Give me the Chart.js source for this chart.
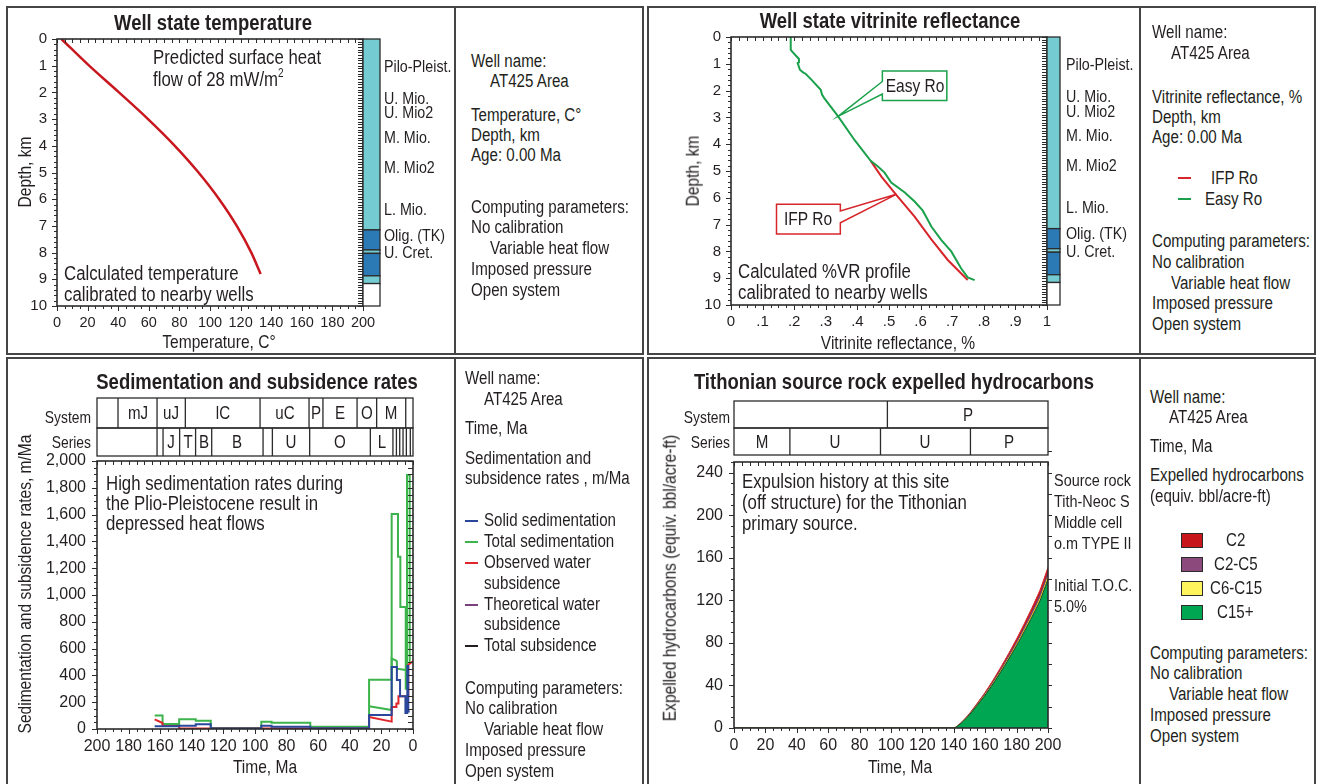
<!DOCTYPE html>
<html>
<head>
<meta charset="utf-8">
<script src="https://cdn.jsdelivr.net/npm/chart.js@4.4.1/dist/chart.umd.min.js"></script>
<style>
body { margin: 0; background: #fff; }
#page { position: relative; width: 1319px; height: 784px; overflow: hidden; background: #fff;
  font-family: "Liberation Sans", Arial, sans-serif; color: #231f20; }
.box { position: absolute; border: 2px solid #454545; box-sizing: border-box; }
.vl { position: absolute; width: 2px; background: #454545; }
canvas { position: absolute; }
.t { position: absolute; white-space: nowrap; line-height: 1; }
.t sup { font-size: 0.6em; vertical-align: 0.7em; }
.sw { position: absolute; }
</style>
</head>
<body>
<div id="page">
  <div class="box" style="left:6px;top:6px;width:638px;height:349px"></div>
  <div class="vl" style="left:454px;top:6px;height:349px"></div>
  <div class="box" style="left:647px;top:6px;width:669px;height:349px"></div>
  <div class="vl" style="left:1139px;top:6px;height:349px"></div>
  <div class="box" style="left:6px;top:357px;width:638px;height:440px"></div>
  <div class="vl" style="left:454px;top:357px;height:440px"></div>
  <div class="box" style="left:647px;top:357px;width:669px;height:440px"></div>
  <div class="vl" style="left:1139px;top:357px;height:440px"></div>
  <canvas id="tempCanvas" width="446" height="345" style="left:8px;top:8px"></canvas>
  <canvas id="vrCanvas" width="491" height="345" style="left:648px;top:8px"></canvas>
  <canvas id="sedCanvas" width="446" height="425" style="left:8px;top:359px"></canvas>
  <canvas id="expCanvas" width="491" height="425" style="left:648px;top:359px"></canvas>
</div>
<script>
// ---- temperature profile (depth km -> temperature C)
const tempDepth = [0, 1, 2, 3, 4, 5, 6, 7, 8, 8.8];
const tempValue = [2.9, 21, 40.5, 59.5, 77, 92.5, 106, 117.5, 127, 133.1];

// ---- vitrinite reflectance profiles (depth km -> %Ro)
const easyDepth = [0, 0.47, 0.54, 0.82, 0.95, 0.97, 1.22, 1.32, 1.37, 1.6, 1.97, 2.15, 2.28, 2.96, 3.86, 4.62, 4.83, 5.06, 5.43, 5.8, 6.14, 6.48, 7.07, 7.57, 8.0, 8.63, 8.97, 9.07];
const easyRo = [0.189, 0.189, 0.193, 0.215, 0.215, 0.211, 0.218, 0.228, 0.236, 0.255, 0.284, 0.288, 0.295, 0.339, 0.392, 0.442, 0.465, 0.486, 0.507, 0.55, 0.581, 0.607, 0.634, 0.665, 0.697, 0.728, 0.749, 0.771];
const ifpDepth = [4.62, 5.21, 5.89, 6.7, 7.55, 8.32, 9.07];
const ifpRo = [0.442, 0.476, 0.523, 0.581, 0.634, 0.686, 0.749];

// ---- stratigraphic column (top depth km of each unit)
const columnTops = [0, 7.15, 7.9, 8.03, 8.87, 9.16];
const columnColors = ['#74cbd1', '#2b7ab5', '#74cbd1', '#2b7ab5', '#74cbd1', '#ffffff'];
const columnNames = ['Pilo-Pleist.', 'U. Mio.', 'U. Mio2', 'M. Mio.', 'M. Mio2', 'L. Mio.', 'Olig. (TK)', 'U. Cret.'];
const columnNameDepth = [1.0, 2.2, 2.75, 3.66, 4.78, 6.36, 7.33, 7.98];

// ---- sedimentation and subsidence rates (time Ma -> m/Ma)
const solidSedTime = [163.5, 148, 148, 137.5, 137.5, 128, 128, 96, 96, 89.5, 89.5, 65, 65, 27.8, 27.8, 13.5, 13.5, 10.2, 10.2, 8.2, 8.2, 4.8, 4.8, 3.6, 3.6, 3.0, 3.0, 2.1];
const solidSedRate = [20, 20, 24, 24, 35, 35, 3, 3, 25, 25, 16, 16, 6, 6, 105, 105, 462, 462, 365, 365, 245, 245, 120, 120, 470, 470, 130, 130];
const totalSedTime = [163.5, 158.5, 158.5, 148, 148, 137.5, 137.5, 128, 128, 96, 96, 89.5, 89.5, 65, 65, 27.8, 27.8, 13.5, 13.5, 9.5, 9.5, 8.0, 8.0, 4.6, 4.6, 3.8, 3.8, 2.1, 2.1];
const totalSedRate = [100, 100, 37, 37, 72, 72, 62, 62, 8, 8, 55, 55, 47, 47, 17, 17, 368, 368, 1605, 1605, 1285, 1285, 910, 910, 300, 300, 1895, 1895, 490];
const obsWaterTime = [163.5, 158.5, 158.5, 148, 148, 27.8, 27.8, 13.5, 13.5, 10.5, 10.5, 9.2, 9.2, 3.0, 3.0, 0];
const obsWaterRate = [72, 45, 22, 22, 4, 4, 90, 55, 165, 165, 190, 190, 245, 245, 480, 505];
const totalSubsTime = [27.8, 13.5, 13.5, 11, 10.2, 10.2, 4.6];
const totalSubsRate = [170, 142, 525, 512, 505, 450, 440];

// ---- stratigraphic tables (Ma boundaries)
const sedSystemBounds = [200, 186.7, 162, 144.1, 96.8, 65.8, 57, 35.4, 23, 4.6, 0];
const sedSystemNames = ['', 'mJ', 'uJ', 'lC', 'uC', 'P', 'E', 'O', 'M', ''];
const sedSeriesBounds = [200, 162, 158.2, 147.7, 137.6, 127.4, 94.9, 89, 65.4, 27, 12.7, 10.5, 8.4, 6.3, 4.2, 1.7, 0];
const sedSeriesNames = ['', '', 'J', 'T', 'B', 'B', '', 'U', 'O', 'L', '', '', '', '', '', ''];
const expSystemBounds = [0, 97.7, 200];
const expSystemNames = ['', 'P'];
const expSeriesBounds = [0, 35.6, 93.3, 150.6, 200];
const expSeriesNames = ['M', 'U', 'U', 'P'];

// ---- expelled hydrocarbons (time Ma -> bbl/acre-ft, per class)
const expTime = [0, 140, 145, 150, 155, 160, 165, 170, 175, 180, 185, 190, 195, 200];
const c15plus = [0, 0, 5, 12.5, 21.5, 31, 41.5, 53, 65, 77.5, 91, 105, 120, 140];
const c6c15 = [0, 0, 0.1, 0.2, 0.3, 0.4, 0.6, 0.7, 0.8, 1, 1.2, 1.4, 1.7, 2];
const c2c5 = [0, 0, 0.2, 0.4, 0.7, 1, 1.3, 1.6, 2, 2.4, 2.8, 3.3, 3.8, 4];
const c2gas = [0, 0, 0.3, 0.6, 0.9, 1.2, 1.6, 2, 2.4, 2.9, 3.4, 4, 4.6, 5];

Chart.defaults.font.family = '"Liberation Sans", Arial, sans-serif';
Chart.defaults.color = '#231f20';
const INK = '#2b2b2b';
const SQUEEZE = 0.84; // condensed look for the HTML text
const page = document.getElementById('page');

function put(s, x, y, size, opts = {}) {
  const d = document.createElement('div');
  d.className = 't';
  d.innerHTML = s;
  d.style.left = x + 'px';
  d.style.top = y + 'px';
  d.style.fontSize = size + 'px';
  let tx = '0', origin = 'left center';
  if (opts.align === 'center' || opts.rot) { tx = '-50%'; origin = 'center center'; }
  if (opts.align === 'right') { tx = '-100%'; origin = 'right center'; }
  d.style.transformOrigin = origin;
  d.style.transform = 'translate(' + tx + ',-50%)' + (opts.rot ? ' rotate(-90deg)' : '') + ' scaleX(' + SQUEEZE + ')';
  if (opts.bold) d.style.fontWeight = 'bold';
  page.appendChild(d);
}

function pts(xs, ys) { return xs.map((v, i) => ({ x: v, y: ys[i] })); }

// frame around the plot area plus all the small tick marks
const frameTicks = {
  id: 'frameTicks',
  afterDatasetsDraw(chart, args, opts) {
    const { ctx, chartArea: a } = chart;
    ctx.save();
    ctx.strokeStyle = INK;
    ctx.lineWidth = 1;
    ctx.beginPath();
    for (const m of opts.marks || []) {
      const sc = chart.scales[m.axis];
      const n = Math.round((sc.max - sc.min) / m.step);
      for (let i = 0; i <= n; i++) {
        const p = Math.round(sc.getPixelForValue(sc.min + i * m.step)) + 0.5;
        if (m.side === 'bottom') { ctx.moveTo(p, a.bottom); ctx.lineTo(p, a.bottom + m.len); }
        if (m.side === 'top') { ctx.moveTo(p, a.top); ctx.lineTo(p, a.top - m.len); }
        if (m.side === 'left') { ctx.moveTo(a.left, p); ctx.lineTo(a.left - m.len, p); }
        if (m.side === 'right') { ctx.moveTo(a.right, p); ctx.lineTo(a.right + m.len, p); }
      }
    }
    ctx.stroke();
    ctx.lineWidth = 1.6;
    ctx.strokeRect(a.left, a.top, a.width, a.height);
    ctx.restore();
  }
};

// stratigraphic column at the right of the depth plots
const strataColumn = {
  id: 'strataColumn',
  afterDraw(chart, args, opts) {
    const { ctx, chartArea: a, scales: { y } } = chart;
    ctx.save();
    ctx.strokeStyle = INK;
    ctx.lineWidth = 1.3;
    opts.tops.forEach((top, i) => {
      const bottom = i + 1 < opts.tops.length ? opts.tops[i + 1] : y.max;
      const y0 = y.getPixelForValue(top), y1 = y.getPixelForValue(bottom);
      ctx.fillStyle = opts.colors[i];
      ctx.fillRect(a.right, y0, opts.width, y1 - y0);
      ctx.strokeRect(a.right, y0, opts.width, y1 - y0);
    });
    ctx.restore();
  }
};

// System / Series table above the time plots
const stratTable = {
  id: 'stratTable',
  afterDraw(chart, args, opts) {
    const { ctx, scales: { x } } = chart;
    ctx.save();
    ctx.strokeStyle = INK;
    ctx.lineWidth = 1.3;
    opts.rows.forEach(r => {
      const xa = x.getPixelForValue(r.bounds[0]), xb = x.getPixelForValue(r.bounds[r.bounds.length - 1]);
      ctx.strokeRect(Math.min(xa, xb), r.y0, Math.abs(xb - xa), r.y1 - r.y0);
      ctx.beginPath();
      r.bounds.slice(1, -1).forEach(b => {
        const p = x.getPixelForValue(b);
        ctx.moveTo(p, r.y0); ctx.lineTo(p, r.y1);
      });
      ctx.stroke();
    });
    ctx.restore();
  }
};

// callout boxes pointing at the curves
const callouts = {
  id: 'callouts',
  afterDatasetsDraw(chart, args, opts) {
    const { ctx, scales: { x, y } } = chart;
    ctx.save();
    opts.boxes.forEach(b => {
      const L = x.getPixelForValue(b.x0), R = x.getPixelForValue(b.x1);
      const T = y.getPixelForValue(b.y0), B = y.getPixelForValue(b.y1);
      const a0 = y.getPixelForValue(b.att0), a1 = y.getPixelForValue(b.att1);
      const px = x.getPixelForValue(b.px), py = y.getPixelForValue(b.py);
      const E = b.side === 'left' ? L : R, F = b.side === 'left' ? R : L;
      ctx.beginPath();
      ctx.moveTo(E, a0); ctx.lineTo(E, T); ctx.lineTo(F, T); ctx.lineTo(F, B); ctx.lineTo(E, B);
      ctx.lineTo(E, a1); ctx.lineTo(px, py); ctx.closePath();
      ctx.strokeStyle = b.color;
      ctx.lineWidth = 1.5;
      ctx.stroke();
    });
    ctx.restore();
  }
};

function scaleOpts(o) {
  return {
    type: 'linear', min: o.min, max: o.max, reverse: !!o.reverse, stacked: !!o.stacked,
    grid: { display: false, drawTicks: false }, border: { display: false },
    ticks: { stepSize: o.step, autoSkip: false, maxRotation: 0, includeBounds: false, padding: o.pad, font: { size: o.size }, callback: o.fmt || (v => v) },
    afterFit: s => { if (o.w) s.width = o.w; if (o.h) s.height = o.h; }
  };
}

function common(pad, extra) {
  return Object.assign({
    responsive: false, animation: false, events: [],
    layout: { padding: pad }
  }, extra);
}

// ================= 1. Well state temperature =================
const tempChart = new Chart(document.getElementById('tempCanvas'), {
  type: 'line',
  data: { datasets: [{ data: pts(tempValue, tempDepth), borderColor: '#c8171e', borderWidth: 2.5, pointRadius: 0, cubicInterpolationMode: 'monotone' }] },
  options: common({ left: 9, top: 31, right: 91, bottom: 19 }, {
    scales: {
      x: scaleOpts({ min: 0, max: 200, step: 20, pad: 8, size: 14.5, h: 28 }),
      y: scaleOpts({ min: 0, max: 10, step: 1, reverse: true, pad: 10, size: 15, w: 40 })
    },
    plugins: {
      legend: { display: false }, tooltip: { enabled: false },
      frameTicks: { marks: [
        { axis: 'x', step: 5, side: 'bottom', len: 3 }, { axis: 'x', step: 20, side: 'bottom', len: 5 },
        { axis: 'x', step: 5, side: 'top', len: -4 },
        { axis: 'y', step: 0.2, side: 'left', len: 3 }, { axis: 'y', step: 1, side: 'left', len: 5 },
        { axis: 'y', step: 0.1, side: 'right', len: -5 }
      ] },
      strataColumn: { tops: columnTops, colors: columnColors, width: 17 }
    }
  }),
  plugins: [frameTicks, strataColumn]
});

// ================= 2. Well state vitrinite reflectance =================
const roFmt = v => v === 0 ? '0' : v === 1 ? '1' : '.' + Math.round(v * 10);
const vrChart = new Chart(document.getElementById('vrCanvas'), {
  type: 'line',
  data: { datasets: [
    { data: pts(easyRo, easyDepth), borderColor: '#1ba14b', borderWidth: 2, pointRadius: 0, tension: 0 },
    { data: pts(ifpRo, ifpDepth), borderColor: '#d7262b', borderWidth: 2, pointRadius: 0, tension: 0 }
  ] },
  options: common({ left: 43, top: 29, right: 92, bottom: 20 }, {
    scales: {
      x: scaleOpts({ min: 0, max: 1, step: 0.1, pad: 8, size: 15, h: 28, fmt: roFmt }),
      y: scaleOpts({ min: 0, max: 10, step: 1, reverse: true, pad: 10, size: 15, w: 40 })
    },
    plugins: {
      legend: { display: false }, tooltip: { enabled: false },
      frameTicks: { marks: [
        { axis: 'x', step: 0.025, side: 'bottom', len: 3 }, { axis: 'x', step: 0.1, side: 'bottom', len: 5 },
        { axis: 'x', step: 0.025, side: 'top', len: -4 },
        { axis: 'y', step: 0.2, side: 'left', len: 3 }, { axis: 'y', step: 1, side: 'left', len: 5 },
        { axis: 'y', step: 0.1, side: 'right', len: -5 }
      ] },
      strataColumn: { tops: columnTops, colors: columnColors, width: 13 },
      callouts: { boxes: [
        { x0: 0.479, x1: 0.683, y0: 1.27, y1: 2.37, att0: 1.66, att1: 2.13, px: 0.339, py: 2.96, side: 'left', color: '#1ba14b' },
        { x0: 0.144, x1: 0.346, y0: 6.24, y1: 7.35, att0: 6.49, att1: 6.93, px: 0.523, py: 5.87, side: 'right', color: '#d7262b' }
      ] }
    }
  }),
  plugins: [frameTicks, strataColumn, callouts]
});

// ================= 3. Sedimentation and subsidence rates =================
const rateLine = (t, r, color) => ({ data: pts(t, r), borderColor: color, borderWidth: 2, pointRadius: 0, tension: 0 });
const sedChart = new Chart(document.getElementById('sedCanvas'), {
  type: 'line',
  data: { datasets: [
    rateLine(solidSedTime, solidSedRate, '#2b479c'),
    rateLine(obsWaterTime, obsWaterRate, '#e0262b'),
    rateLine(totalSubsTime, totalSubsRate, '#3cb44b'),
    rateLine(totalSedTime, totalSedRate, '#3cb44b')
  ] },
  options: common({ left: 39, top: 102, right: 41, bottom: 27 }, {
    scales: {
      x: scaleOpts({ min: 0, max: 200, step: 20, reverse: true, pad: 8, size: 16, h: 28 }),
      y: scaleOpts({ min: 0, max: 2000, step: 200, pad: 11, size: 16, w: 50, fmt: v => v.toLocaleString('en-US') })
    },
    plugins: {
      legend: { display: false }, tooltip: { enabled: false },
      frameTicks: { marks: [
        { axis: 'x', step: 5, side: 'bottom', len: 3 }, { axis: 'x', step: 20, side: 'bottom', len: 5 },
        { axis: 'x', step: 5, side: 'top', len: -4 },
        { axis: 'y', step: 50, side: 'left', len: 3 }, { axis: 'y', step: 200, side: 'left', len: 5 },
        { axis: 'y', step: 50, side: 'right', len: -5 }
      ] },
      stratTable: { rows: [
        { y0: 39, y1: 69, bounds: sedSystemBounds },
        { y0: 69, y1: 97, bounds: sedSeriesBounds }
      ] }
    }
  }),
  plugins: [frameTicks, stratTable]
});

// ================= 4. Tithonian expelled hydrocarbons =================
const area = (vals, fill, color, edge) => ({ data: pts(expTime, vals), fill: fill, backgroundColor: color, borderColor: edge, borderWidth: 1, pointRadius: 0, tension: 0.2 });
const expChart = new Chart(document.getElementById('expCanvas'), {
  type: 'line',
  data: { datasets: [
    area(c15plus, 'origin', '#00a651', '#1f3d2a'),
    area(c6c15, '-1', '#fff45c', '#f2e200'),
    area(c2c5, '-1', '#8b4a7b', '#6e3562'),
    area(c2gas, '-1', '#c8161d', '#d7262b')
  ] },
  options: common({ left: 46, top: 103, right: 91, bottom: 28 }, {
    scales: {
      x: scaleOpts({ min: 0, max: 200, step: 20, pad: 8, size: 16, h: 28 }),
      y: scaleOpts({ min: 0, max: 250, step: 40, pad: 11, size: 16, w: 40, stacked: true })
    },
    plugins: {
      legend: { display: false }, tooltip: { enabled: false },
      frameTicks: { marks: [
        { axis: 'x', step: 5, side: 'bottom', len: 3 }, { axis: 'x', step: 20, side: 'bottom', len: 5 },
        { axis: 'x', step: 5, side: 'top', len: -4 },
        { axis: 'y', step: 10, side: 'left', len: 3 }, { axis: 'y', step: 40, side: 'left', len: 5 },
        { axis: 'y', step: 20, side: 'right', len: 4 }
      ] },
      stratTable: { rows: [
        { y0: 42, y1: 69, bounds: expSystemBounds },
        { y0: 69, y1: 96, bounds: expSeriesBounds }
      ] }
    }
  }),
  plugins: [frameTicks, stratTable]
});

// ---------------- texts ----------------
const BODY = 18;
// titles
put('Well state temperature', 213, 23, 22, { align: 'center', bold: true });
put('Well state vitrinite reflectance', 890, 21, 22, { align: 'center', bold: true });
put('Sedimentation and subsidence rates', 257, 382, 22, { align: 'center', bold: true });
put('Tithonian source rock expelled hydrocarbons', 894, 382, 22, { align: 'center', bold: true });

// axis titles
put('Depth, km', 25, 172, 18.5, { rot: true });
put('Temperature, C°', 219, 342, 18.5, { align: 'center' });
put('Depth, km', 693, 171, 18.5, { rot: true });
put('Vitrinite reflectance, %', 898, 343, 18.5, { align: 'center' });
put('Sedimentation and subsidence rates, m/Ma', 25, 584, 18.5, { rot: true });
put('Time, Ma', 265, 767, 18.5, { align: 'center' });
put('Expelled hydrocarbons (equiv. bbl/acre-ft)', 670, 578, 18.5, { rot: true });
put('Time, Ma', 900, 767, 18.5, { align: 'center' });

// annotations inside plots
put('Predicted surface heat', 153, 57, 20);
put('flow of 28 mW/m<sup>2</sup>', 153, 78, 20);
put('Calculated temperature', 64, 273, 20);
put('calibrated to nearby wells', 64, 294, 20);
put('Calculated %VR profile', 738, 271, 20);
put('calibrated to nearby wells', 738, 292, 20);
put('High sedimentation rates during', 106, 483, 20);
put('the Plio-Pleistocene result in', 106, 503, 20);
put('depressed heat flows', 106, 523, 20);
put('Expulsion history at this site', 742, 481, 20);
put('(off structure) for the Tithonian', 742, 502, 20);
put('primary source.', 742, 523, 20);
[['Source rock', 481], ['Tith-Neoc S', 502], ['Middle cell', 523], ['o.m TYPE II', 544], ['Initial T.O.C.', 586], ['5.0%', 607]]
  .forEach(([s, y]) => put(s, 1054, y, 17.2));

// callout labels, centred in their boxes
const cbox = vrChart.options.plugins.callouts.boxes;
[['Easy Ro', cbox[0]], ['IFP Ro', cbox[1]]].forEach(([s, b]) => {
  const x = 648 + (vrChart.scales.x.getPixelForValue(b.x0) + vrChart.scales.x.getPixelForValue(b.x1)) / 2;
  const y = 8 + (vrChart.scales.y.getPixelForValue(b.y0) + vrChart.scales.y.getPixelForValue(b.y1)) / 2;
  put(s, x, y, 18.5, { align: 'center' });
});

// column labels
columnNames.forEach((s, i) => {
  put(s, 384, 8 + tempChart.scales.y.getPixelForValue(columnNameDepth[i]), 17);
  put(s, 1066, 8 + vrChart.scales.y.getPixelForValue(columnNameDepth[i]), 17);
});

// table labels
function tableLabels(chart, left, top, bounds, names, yMid) {
  names.forEach((s, i) => {
    if (!s) return;
    const x = left + (chart.scales.x.getPixelForValue(bounds[i]) + chart.scales.x.getPixelForValue(bounds[i + 1])) / 2;
    put(s, x, top + yMid, 18, { align: 'center' });
  });
}
tableLabels(sedChart, 8, 359, sedSystemBounds, sedSystemNames, 54);
tableLabels(sedChart, 8, 359, sedSeriesBounds, sedSeriesNames, 83);
tableLabels(expChart, 648, 359, expSystemBounds, expSystemNames, 55.5);
tableLabels(expChart, 648, 359, expSeriesBounds, expSeriesNames, 82.5);
put('System', 91, 417, 16.5, { align: 'right' });
put('Series', 91, 442, 16.5, { align: 'right' });
put('System', 730, 417, 16.5, { align: 'right' });
put('Series', 730, 442, 16.5, { align: 'right' });

// info panels
function info(x, indent, rows) {
  rows.forEach(([s, y, ind]) => put(s, ind ? indent : x, y, BODY));
}
info(471, 490, [['Well name:', 61], ['AT425 Area', 81, 1], ['Temperature, C°', 115], ['Depth, km', 135], ['Age: 0.00 Ma', 155],
  ['Computing parameters:', 207], ['No calibration', 227], ['Variable heat flow', 248, 1], ['Imposed pressure', 269], ['Open system', 290]]);
info(1152, 1171, [['Well name:', 32], ['AT425 Area', 53, 1], ['Vitrinite reflectance, %', 97], ['Depth, km', 117], ['Age: 0.00 Ma', 137],
  ['Computing parameters:', 241], ['No calibration', 262], ['Variable heat flow', 283, 1], ['Imposed pressure', 303], ['Open system', 324]]);
info(465, 484, [['Well name:', 378], ['AT425 Area', 399, 1], ['Time, Ma', 428], ['Sedimentation and', 458], ['subsidence rates , m/Ma', 478],
  ['Solid sedimentation', 520, 1], ['Total sedimentation', 541, 1], ['Observed water', 562, 1], ['subsidence', 583, 1],
  ['Theoretical water', 604, 1], ['subsidence', 624, 1], ['Total subsidence', 645, 1],
  ['Computing parameters:', 688], ['No calibration', 708], ['Variable heat flow', 729, 1], ['Imposed pressure', 750], ['Open system', 771]]);
info(1150, 1169, [['Well name:', 397], ['AT425 Area', 417, 1], ['Time, Ma', 446], ['Expelled hydrocarbons', 475], ['(equiv. bbl/acre-ft)', 496],
  ['Computing parameters:', 653], ['No calibration', 673], ['Variable heat flow', 694, 1], ['Imposed pressure', 715], ['Open system', 736]]);

// legend samples in the info panels
function sw(x, y, w, h, color, border) {
  const d = document.createElement('div');
  d.className = 'sw';
  d.style.cssText = `left:${x}px;top:${y}px;width:${w}px;height:${h}px;background:${color};` + (border ? 'border:1px solid #2b2b2b;box-sizing:border-box;' : '');
  page.appendChild(d);
}
sw(1178, 177, 13, 2, '#d7262b'); put('IFP Ro', 1211, 178, BODY);
sw(1178, 198, 13, 2, '#1ba14b'); put('Easy Ro', 1205, 199, BODY);
[['#2b479c', 520], ['#3cb44b', 541], ['#e0262b', 562], ['#7b3f7c', 604], ['#231f20', 645]].forEach(([c, y]) => sw(465, y, 13, 2, c));
[['#c8161d', 'C2', 540, 1226], ['#8b4a7b', 'C2-C5', 564, 1214], ['#fff45c', 'C6-C15', 588, 1210], ['#00a651', 'C15+', 612, 1217]]
  .forEach(([c, s, y, tx]) => { sw(1181, y - 7, 22, 15, c, true); put(s, tx, y, BODY); });
</script>
</body>
</html>
